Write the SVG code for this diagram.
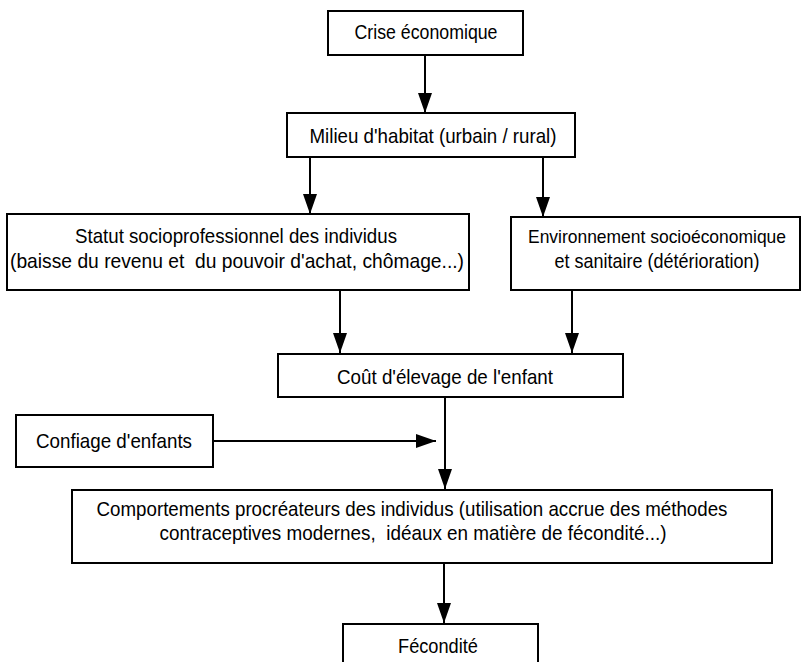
<svg xmlns="http://www.w3.org/2000/svg" width="806" height="662" viewBox="0 0 806 662">
<style>
.box{fill:#fff;stroke:#000;stroke-width:2}
.t{font-family:"Liberation Sans",Arial,sans-serif;font-size:21px;fill:#000;text-anchor:middle}
.c{stroke:#000;stroke-width:2;fill:none;marker-end:url(#ah)}
</style>
<defs>
<marker id="ah" markerUnits="userSpaceOnUse" markerWidth="20" markerHeight="14" refX="20" refY="7" orient="auto">
<path d="M0,0 L20,7 L0,14 z" fill="#000"/>
</marker>
</defs>
<rect width="806" height="662" fill="#fff"/>
<g id="connectors">
<line class="c" x1="425" y1="55" x2="425" y2="113"/>
<line class="c" x1="310" y1="157" x2="310" y2="214"/>
<line class="c" x1="543" y1="157" x2="543" y2="217"/>
<line class="c" x1="340" y1="290" x2="340" y2="353"/>
<line class="c" x1="572" y1="290" x2="572" y2="353"/>
<line class="c" x1="445" y1="397" x2="445" y2="489"/>
<line class="c" x1="213" y1="441" x2="436" y2="441"/>
<line class="c" x1="444" y1="563" x2="444" y2="623"/>
</g>
<g id="crise">
<rect class="box" x="328" y="11" width="195" height="44"/>
<text class="t" x="426" y="39" textLength="143" lengthAdjust="spacingAndGlyphs">Crise économique</text>
</g>
<g id="milieu">
<rect class="box" x="287" y="113" width="288" height="44"/>
<text class="t" x="433" y="143" textLength="247" lengthAdjust="spacingAndGlyphs">Milieu d'habitat (urbain / rural)</text>
</g>
<g id="statut">
<rect class="box" x="7" y="214" width="462" height="76"/>
<text class="t" x="236" y="243" textLength="322" lengthAdjust="spacingAndGlyphs">Statut socioprofessionnel des individus</text>
<text class="t" x="237" y="268" textLength="454" lengthAdjust="spacingAndGlyphs" xml:space="preserve">(baisse du revenu et  du pouvoir d'achat, chômage...)</text>
</g>
<g id="environnement">
<rect class="box" x="511" y="217" width="289" height="73"/>
<text class="t" x="657" y="243" style="font-size:18.5px" textLength="258" lengthAdjust="spacingAndGlyphs">Environnement socioéconomique</text>
<text class="t" x="657" y="268" textLength="205" lengthAdjust="spacingAndGlyphs">et sanitaire (détérioration)</text>
</g>
<g id="cout">
<rect class="box" x="278" y="354" width="345" height="43"/>
<text class="t" x="445" y="384" textLength="216" lengthAdjust="spacingAndGlyphs">Coût d'élevage de l'enfant</text>
</g>
<g id="confiage">
<rect class="box" x="16" y="415" width="197" height="52"/>
<text class="t" x="114" y="448" textLength="156" lengthAdjust="spacingAndGlyphs">Confiage d'enfants</text>
</g>
<g id="comportements">
<rect class="box" x="72" y="490" width="700" height="73"/>
<text class="t" x="412" y="516" textLength="631" lengthAdjust="spacingAndGlyphs">Comportements procréateurs des individus (utilisation accrue des méthodes</text>
<text class="t" x="413" y="540" textLength="507" lengthAdjust="spacingAndGlyphs" xml:space="preserve">contraceptives modernes,  idéaux en matière de fécondité...)</text>
</g>
<g id="fecondite">
<rect class="box" x="343" y="624" width="195" height="50"/>
<text class="t" x="438" y="653" textLength="80" lengthAdjust="spacingAndGlyphs">Fécondité</text>
</g>
</svg>
